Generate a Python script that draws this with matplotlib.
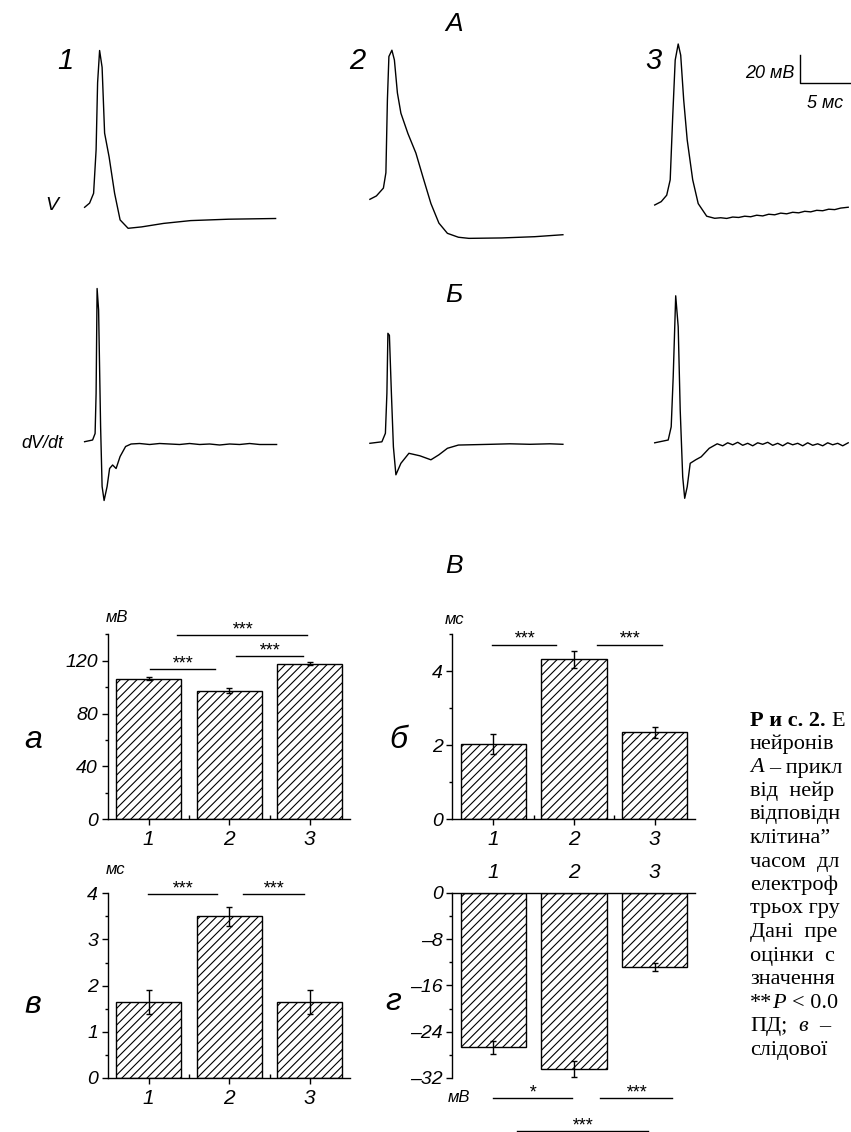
import matplotlib
matplotlib.use('Agg')
import matplotlib.pyplot as plt

W, H = 851, 1132

# ---- A: membrane potential traces (ms, mV) ----
t_v1 = [0.0, 0.5, 0.9, 1.15, 1.3, 1.5, 1.75, 2.0, 2.45, 3.0, 3.55, 4.35, 5.7, 7.9, 10.6, 14.4, 19.1]
v1 = [-60, -57, -50, -19, 29, 52, 40, -7, -24, -50, -69, -75, -74, -71.5, -69.5, -68.5, -68]

t_v2 = [0.0, 0.65, 1.35, 1.6, 1.75, 1.9, 2.2, 2.45, 2.75, 3.1, 3.8, 4.6, 5.3, 6.1, 6.9, 7.75,
        8.85, 9.9, 13.2, 16.5, 19.3]
v2 = [-60, -57.6, -52, -41, 11, 42, 46.5, 39.5, 16, 1.5, -13, -27, -44, -63, -77, -84.3,
      -87.1, -87.9, -87.6, -86.7, -85.3]

t_v3 = [0.0, 0.65, 1.2, 1.55, 1.8, 2.05, 2.35, 2.6, 2.9, 3.25, 3.8, 4.35, 5.2, 6.0, 6.6, 7.2,
        7.8, 8.4, 9.0, 9.6, 10.2, 10.8, 11.4, 12.0, 12.6, 13.2, 13.8, 14.4, 15.0, 15.6, 16.2,
        16.8, 17.4, 18.0, 18.6, 19.35]
v3 = [-60, -57.6, -53, -42, 3, 43.5, 55, 47, 15, -13.5, -42, -59, -68, -69.5, -69.1, -69.6,
      -68.6, -68.9, -68.0, -68.4, -67.3, -67.8, -66.6, -67.0, -65.8, -66.3, -65.2, -65.6,
      -64.5, -64.9, -63.8, -64.1, -63.0, -63.3, -62.2, -61.6]

# ---- Б: first derivative dV/dt (ms, V/s) ----
t_d1 = [0.0, 0.8, 1.05, 1.15, 1.25, 1.4, 1.6, 1.75, 1.95, 2.25, 2.5, 2.8, 3.15, 3.55, 4.1, 4.65,
        5.5, 6.5, 7.5, 8.5, 9.5, 10.5, 11.5, 12.5, 13.5, 14.5, 15.5, 16.5, 17.5, 18.5, 19.2]
d1 = [4.6, 8, 21, 101, 311, 268, 35, -85, -113, -85, -49, -42, -49, -25, -5, 0,
      1, -1, 1, 0, -1, 1, -1, 0, -2, 0, -1, 1, -1, -1, -1]

t_d2 = [0.0, 1.2, 1.55, 1.7, 1.8, 1.95, 2.15, 2.35, 2.6, 3.1, 3.9, 5.0, 6.1, 6.9, 7.75, 8.85,
        12.1, 14.0, 16.0, 18.0, 19.3]
d2 = [2, 5, 22, 102, 222, 218, 102, -5, -61, -38, -18, -23, -31, -21, -8, -1.5,
      0, 1, 0, 1, 0]

t_d3 = [0.0, 1.35, 1.65, 1.85, 2.1, 2.35, 2.55, 2.8, 3.0, 3.25, 3.55, 4.1, 4.65, 5.45, 6.25,
        6.8, 7.3, 7.8, 8.3, 8.8, 9.3, 9.8, 10.3, 10.8, 11.3, 11.8, 12.3, 12.8, 13.3, 13.8, 14.3,
        14.8, 15.3, 15.8, 16.3, 16.8, 17.3, 17.8, 18.3, 18.8, 19.35]
d3 = [3, 8.6, 35, 135, 297, 235, 69, -65, -108, -85, -38, -31, -25, -8, 1,
      -3, 3, -1, 4, -2, 2, -3, 3, 0, 4, -2, 2, -3, 3, -1, 2,
      -3, 3, -2, 1, -3, 3, -1, 2, -3, 3]

# scale bar for A
sb_ms = 5
sb_mv = 20

# ---- В: group statistics (mean, s.e.m.) ----
groups = [1, 2, 3]
group_labels = ['1', '2', '3']
amp_mean = [106.5, 97.4, 117.9]      # а, mV
amp_err = [1.0, 2.0, 1.5]
dur_mean = [2.03, 4.32, 2.35]        # б, ms
dur_err = [0.27, 0.24, 0.15]
dec_mean = [1.65, 3.5, 1.65]         # в, ms
dec_err = [0.26, 0.21, 0.26]
ahp_mean = [-26.7, -30.5, -12.8]     # г, mV
ahp_err = [1.1, 1.35, 0.7]

# significance: (from, to, level, stars)
sig_a = [(1.01, 1.82, 113.9, '***'), (2.08, 2.91, 123.4, '***'), (1.35, 2.97, 139.4, '***')]
sig_b = [(0.98, 1.78, 4.72, '***'), (2.28, 3.09, 4.72, '***')]
sig_c = [(0.99, 1.85, 3.98, '***'), (2.17, 2.93, 3.98, '***')]
sig_d = [(1.0, 1.98, -35.4, '*'), (2.32, 3.22, -35.4, '***'), (1.29, 2.92, -41.1, '***')]

# caption, as much of it as shows before the right edge: (text, weight, style)
caption = [
    [('Р и с. 2.', 'bold', 'normal'), (' Е', 'normal', 'normal')],
    [('нейронів', 'normal', 'normal')],
    [('А', 'normal', 'italic'), (' – прикл', 'normal', 'normal')],
    [('від  нейр', 'normal', 'normal')],
    [('відповідн', 'normal', 'normal')],
    [('клітина”', 'normal', 'normal')],
    [('часом  дл', 'normal', 'normal')],
    [('електроф', 'normal', 'normal')],
    [('трьох гру', 'normal', 'normal')],
    [('Дані  пре', 'normal', 'normal')],
    [('оцінки  с', 'normal', 'normal')],
    [('значення', 'normal', 'normal')],
    [('**', 'normal', 'normal'), ('P', 'normal', 'italic'), (' < 0.0', 'normal', 'normal')],
    [('ПД;  ', 'normal', 'normal'), ('в', 'normal', 'italic'), ('  –', 'normal', 'normal')],
    [('слідової', 'normal', 'normal')],
]

plt.rcParams['font.family'] = ['Liberation Sans', 'DejaVu Sans']
plt.rcParams['font.style'] = 'italic'
plt.rcParams['hatch.linewidth'] = 0.8
plt.rcParams['axes.linewidth'] = 1.0

fig = plt.figure(figsize=(W / 100, H / 100), dpi=100)
fig.patch.set_facecolor('white')


def px_axes(x0, y0, x1, y1):
    return fig.add_axes([x0 / W, 1 - y1 / H, (x1 - x0) / W, (y1 - y0) / H])


def px_text(x, y, s, **kw):
    return fig.text(x / W, 1 - y / H, s, **kw)


MS_PX = 10.0   # px per ms
MV_PX = 1.4    # px per mV
DV_PX = 0.5    # px per V/s


def trace_axes(x0, y0, ylo, yhi, base, scale, t_max=20.0):
    ax = px_axes(x0, y0 - (yhi - base) * scale, x0 + t_max * MS_PX, y0 + (base - ylo) * scale)
    ax.set_xlim(0, t_max)
    ax.set_ylim(ylo, yhi)
    ax.axis('off')
    return ax


# A
for (x0, y0), t, v in zip([(84.6, 207.3), (369.9, 199.3), (654.7, 205.0)],
                          [t_v1, t_v2, t_v3], [v1, v2, v3]):
    ax = trace_axes(x0, y0, -100, 70, -60, MV_PX)
    ax.plot(t, v, color='black', lw=1.0, clip_on=False)
ax_v3 = ax
sb_t0, sb_v0 = 14.5, 27
ax_v3.plot([sb_t0, sb_t0, sb_t0 + sb_ms], [sb_v0 + sb_mv, sb_v0, sb_v0],
           color='black', lw=1.0, clip_on=False)

# Б
for (x0, y0), t, d in zip([(84.6, 444.0), (369.9, 444.3), (654.7, 444.3)],
                          [t_d1, t_d2, t_d3], [d1, d2, d3]):
    ax = trace_axes(x0, y0, -150, 350, 0, DV_PX)
    ax.plot(t, d, color='black', lw=1.0, clip_on=False)

px_text(454, 24, 'A', fontsize=19, ha='center', va='center')
px_text(454, 295, 'Б', fontsize=19, ha='center', va='center')
px_text(454, 566, 'В', fontsize=19, ha='center', va='center')
for x, s in zip([65.5, 357, 653], group_labels):
    px_text(x, 61, s, fontsize=21, ha='center', va='center')
px_text(52, 205, 'V', fontsize=14, ha='center', va='center')
px_text(63, 443, 'dV/dt', fontsize=13, ha='right', va='center')
px_text(794, 73, '20 мВ', fontsize=13, ha='right', va='center')
px_text(825, 104, '5 мс', fontsize=13, ha='center', va='center')


def bar_panel(rect, means, errs, ylim, major, minor, ticklabels, sig, top=False):
    ax = px_axes(*rect)
    ax.bar(groups, means, width=0.81, color='white', edgecolor='black',
           hatch='////', linewidth=1.0, zorder=2)
    ax.errorbar(groups, means, yerr=errs, fmt='none', ecolor='black',
                elinewidth=1.0, capsize=2.5, capthick=1.0, zorder=3)
    ax.set_xlim(0.49, 3.5)
    ax.set_ylim(*ylim)
    ax.set_yticks(major)
    ax.set_yticklabels(ticklabels)
    ax.set_yticks(minor, minor=True)
    ax.set_xticks(groups)
    ax.set_xticklabels(group_labels)
    ax.spines['right'].set_visible(False)
    ax.tick_params(axis='y', which='major', direction='out', length=4, width=1,
                   labelsize=14, pad=3)
    ax.tick_params(axis='y', which='minor', direction='out', length=2.5, width=1)
    if top:
        ax.spines['bottom'].set_visible(False)
        ax.xaxis.tick_top()
        ax.tick_params(axis='x', length=0, labelsize=15, pad=8)
    else:
        ax.spines['top'].set_visible(False)
        ax.set_xticks([1.5, 2.5], minor=True)
        ax.tick_params(axis='x', which='major', direction='out', length=4, width=1,
                       labelsize=15, pad=4)
        ax.tick_params(axis='x', which='minor', direction='in', length=3, width=1)
    ax.set_facecolor('none')
    for x0, x1, y, stars in sig:
        ax.plot([x0, x1], [y, y], color='black', lw=1.0, clip_on=False)
        ax.annotate(stars, xy=((x0 + x1) / 2, y), xytext=(0, 0.5),
                    textcoords='offset points', ha='center', va='baseline',
                    fontsize=13, annotation_clip=False)
    return ax


bar_panel((107.7, 634.3, 350, 819.3), amp_mean, amp_err, (0, 140), [0, 40, 80, 120],
          [20, 60, 100, 140], ['0', '40', '80', '120'], sig_a)
bar_panel((452.3, 634.3, 695, 819.3), dur_mean, dur_err, (0, 5), [0, 2, 4],
          [1, 3, 5], ['0', '2', '4'], sig_b)
bar_panel((107.7, 893.3, 350, 1078), dec_mean, dec_err, (0, 4), [0, 1, 2, 3, 4],
          [0.5, 1.5, 2.5, 3.5], ['0', '1', '2', '3', '4'], sig_c)
bar_panel((452.3, 892.7, 695, 1078), ahp_mean, ahp_err, (-32, 0), [-32, -24, -16, -8, 0],
          [-28, -20, -12, -4], ['\u201332', '\u201324', '\u201316', '\u20138', '0'], sig_d,
          top=True)

for x, y, s in [(33, 740, 'а'), (398, 740, 'б'), (33, 1005, 'в'), (393, 1002, 'г')]:
    px_text(x, y, s, fontsize=23, ha='center', va='center')
for x, y, s in [(117, 617, 'мВ'), (455, 619, 'мс'), (116, 870, 'мс'), (459, 1097, 'мВ')]:
    px_text(x, y, s, fontsize=12, ha='center', va='center')

# caption block on the right
renderer = fig.canvas.get_renderer()


def text_width(s, **kw):
    t = fig.text(0, 0, s, **kw)
    w = t.get_window_extent(renderer).width
    t.remove()
    return w


cap_kw = dict(fontsize=16, family=['Liberation Serif', 'DejaVu Serif'])
space_w = text_width('n n', **cap_kw) - text_width('nn', **cap_kw)
for i, runs in enumerate(caption):
    x = 750
    y = 721 + 23.5 * i
    for s, weight, style in runs:
        lead = len(s) - len(s.lstrip(' '))
        trail = len(s) - len(s.rstrip(' '))
        core = s.strip(' ')
        x += lead * space_w
        px_text(x, y, core, fontweight=weight, fontstyle=style, ha='left', va='center', **cap_kw)
        x += text_width(core, fontweight=weight, fontstyle=style, **cap_kw) + trail * space_w

fig.savefig('out.png', dpi=100, facecolor='white')
